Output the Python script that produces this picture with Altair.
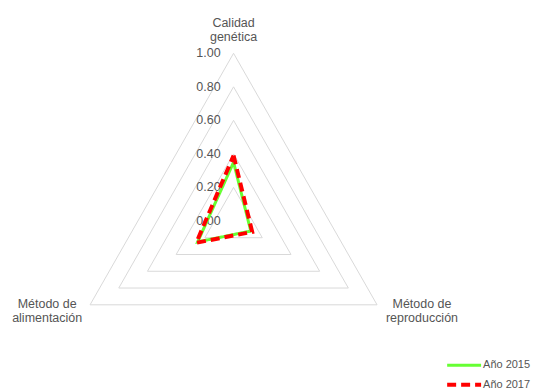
import altair as alt
import pandas as pd

# ---- data ----
categories = ["Calidad genética", "Método de reproducción", "Método de alimentación"]
category_text = ["Calidad\ngenética", "Método de\nreproducción", "Método de\nalimentación"]
category_angles = [90, -30, 210]
series_names = ["Año 2015", "Año 2017"]
values_2015 = [0.35, 0.12, 0.25]
values_2017 = [0.39, 0.13, 0.26]
levels = [0.0, 0.2, 0.4, 0.6, 0.8, 1.0]
level_labels = ["0.00", "0.20", "0.40", "0.60", "0.80", "1.00"]
colors = ["#66ff33", "#ff0000"]

rows = []
for s, vals in zip(series_names, [values_2015, values_2017]):
    for k in range(len(categories) + 1):
        i = k % len(categories)
        rows.append({"series": s, "category": categories[i], "value": vals[i],
                     "angle": category_angles[i], "ord": k})
df_series = pd.DataFrame(rows)

grid_rows = []
for lv in levels:
    for k in range(len(categories) + 1):
        i = k % len(categories)
        grid_rows.append({"level": lv, "angle": category_angles[i], "ord": k})
df_grid = pd.DataFrame(grid_rows)

df_levels = pd.DataFrame({"level": levels, "label": level_labels})
df_cats = pd.DataFrame({"category": categories, "text": category_text,
                        "angle": category_angles})

# ---- scales ----
W, H = 523, 375
xs = alt.Scale(domain=[-1.3614, 1.7892], nice=False, zero=False)
ys = alt.Scale(domain=[-0.9643, 1.2679], nice=False, zero=False)
X = lambda: alt.X("x:Q", scale=xs, axis=None)
Y = lambda: alt.Y("y:Q", scale=ys, axis=None)

FONT = "Liberation Sans"
TXT = "#555555"

grid = alt.Chart(df_grid).transform_calculate(
    x="datum.level * cos(datum.angle * PI / 180)",
    y="datum.level * sin(datum.angle * PI / 180)",
).mark_line(color="#d9d9d9", strokeWidth=1).encode(
    x=X(), y=Y(), detail="level:N", order=alt.Order("ord:Q")
)

level_text = alt.Chart(df_levels).transform_calculate(
    x="0", y="datum.level"
).mark_text(align="right", baseline="middle", dx=-13, font=FONT, fontSize=12.5,
            color=TXT).encode(x=X(), y=Y(), text="label:N")

leg = dict(title=None, orient="none", legendX=450, legendY=351,
           symbolType="M-3.4,0H3.4", symbolSize=100, symbolStrokeWidth=3,
           labelOffset=12, labelFontSize=11, labelColor=TXT, labelFont=FONT,
           rowPadding=5)

lines = alt.Chart(df_series).transform_calculate(
    x="datum.value * cos(datum.angle * PI / 180)",
    y="datum.value * sin(datum.angle * PI / 180)",
).mark_line(strokeJoin="miter").encode(
    x=X(), y=Y(),
    color=alt.Color("series:N", scale=alt.Scale(domain=series_names, range=colors),
                    legend=alt.Legend(**leg)),
    strokeDash=alt.StrokeDash("series:N",
                              scale=alt.Scale(domain=series_names, range=[[1, 0], [9, 5]]),
                              legend=alt.Legend(**leg)),
    strokeWidth=alt.StrokeWidth("series:N",
                                scale=alt.Scale(domain=series_names, range=[3, 4]),
                                legend=None),
    order=alt.Order("ord:Q"),
)


def cat_label(name, dx, dy, baseline):
    return alt.Chart(df_cats).transform_filter(
        alt.datum.category == name
    ).transform_calculate(
        x="cos(datum.angle * PI / 180)",
        y="sin(datum.angle * PI / 180)",
    ).mark_text(align="center", baseline=baseline, dx=dx, dy=dy, lineBreak="\n",
                lineHeight=13.5, font=FONT, fontSize=12.5, color=TXT).encode(
        x=X(), y=Y(), text="text:N")


labels = (cat_label(categories[0], 0, -23, "bottom")
          + cat_label(categories[1], 45, -6.5, "top")
          + cat_label(categories[2], -43, -6.5, "top"))

chart = alt.layer(grid, level_text, lines, labels).properties(
    width=W, height=H, padding=0
).configure_view(stroke=None)

chart.save("out.html", embed_options={"renderer": "svg", "actions": False})
